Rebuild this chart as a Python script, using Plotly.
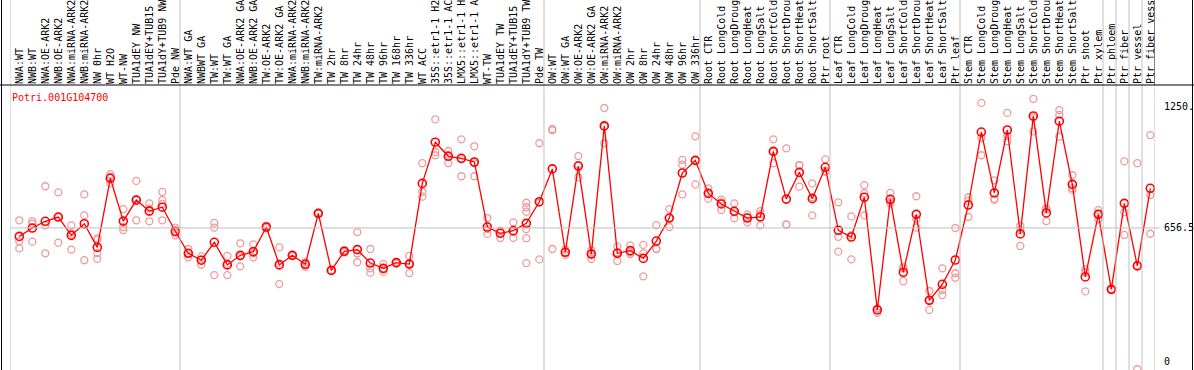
import plotly.graph_objects as go

gene_id = "Potri.001G104700"

group_nw = ["NWA:WT", "NWB:WT", "NWA:OE-ARK2", "NWB:OE-ARK2", "NWA:miRNA-ARK2", "NWB:miRNA-ARK2",
            "NW 0hr", "WT H2O", "WT-NW", "TUA1dEY NW", "TUA1dEY+TUB15", "TUA1dY+TUB9 NW", "Pde NW"]
group_tw = ["NWA:WT GA", "NWBWT GA", "TW:WT", "TW:WT GA", "NWA:OE-ARK2 GA", "NWB:OE-ARK2 GA",
            "TW:OE-ARK2", "TW:OE-ARK2 GA", "NWA:miRNA-ARK2", "NWB:miRNA-ARK2", "TW:miRNA-ARK2",
            "TW 2hr", "TW 8hr", "TW 24hr", "TW 48hr", "TW 96hr", "TW 168hr", "TW 336hr", "WT ACC",
            "35S::etr1-1 H2", "35S::etr1-1 AC", "LMX5::etr1-1 H", "LMX5::etr1-1 A", "WT-TW",
            "TUA1dEY TW", "TUA1dEY+TUB15", "TUA1dY+TUB9 TW", "Pde TW"]
group_ow = ["OW:WT", "OW:WT GA", "OW:OE-ARK2", "OW:OE-ARK2 GA", "OW:miRNA-ARK2", "OW:miRNA-ARK2",
            "OW 2hr", "OW 8hr", "OW 24hr", "OW 48hr", "OW 96hr", "OW 336hr"]
group_root = ["Root CTR", "Root LongCold", "Root LongDroug", "Root LongHeat", "Root LongSalt",
              "Root ShortCold", "Root ShortDrou", "Root ShortHeat", "Root ShortSalt", "Ptr root"]
group_leaf = ["Leaf CTR", "Leaf LongCold", "Leaf LongDroug", "Leaf LongHeat", "Leaf LongSalt",
              "Leaf ShortCold", "Leaf ShortDrou", "Leaf ShortHeat", "Leaf ShortSalt", "Ptr leaf"]
group_stem = ["Stem CTR", "Stem LongCold", "Stem LongDroug", "Stem LongHeat", "Stem LongSalt",
              "Stem ShortCold", "Stem ShortDrou", "Stem ShortHeat", "Stem ShortSalt", "Ptr shoot", "Ptr xylem"]
group_phloem = ["Ptr phloem"]
group_fiber = ["Ptr fiber"]
group_vessel = ["Ptr vessel"]
group_fv = ["Ptr fiber vess"]

groups = [group_nw, group_tw, group_ow, group_root, group_leaf, group_stem,
          group_phloem, group_fiber, group_vessel, group_fv]

# mean expression per sample
expression = [615, 656, 689, 710, 620, 677, 561, 900, 690, 793, 739, 758, 640,
              532, 498, 586, 475, 522, 540, 661, 475, 522, 478, 728, 448, 542, 550, 484, 458, 486, 479,
              875, 1077, 1008, 998, 980, 661, 630, 643, 679, 785,
              946, 537, 960, 528, 1157, 532, 545, 507, 592, 705, 926, 988,
              826, 774, 738, 705, 711, 1032, 798, 929, 800, 954,
              645, 612, 807, 254, 797, 439, 723, 301, 380, 499,
              769, 1127, 828, 1137, 627, 1206, 730, 1180, 870, 416, 723,
              355, 777, 470, 851]

# individual replicate values per sample
replicates = [
    [694, 591, 556], [689, 678, 589], [861, 669, 532], [831, 584, 710], [669, 630, 550],
    [821, 718, 498], [599, 533, 505, 605], [920, 908, 875], [749, 661, 646], [887, 694, 797],
    [777, 689, 751], [833, 793, 774, 694], [658, 633, 620],
    [553, 512, 532], [517, 476, 501], [681, 658, 425], [519, 425, 481], [581, 468, 517],
    [576, 512, 532], [667, 655, 661], [561, 381, 483], [524, 520, 522], [489, 466, 479],
    [730, 726, 728], [450, 446, 448], [548, 537, 541], [636, 531, 488], [553, 458, 437],
    [479, 442, 453], [490, 482, 486], [519, 435, 483],
    [974, 834, 810], [1189, 1029, 1013], [1034, 974, 1016], [1091, 910, 993], [1057, 910, 973],
    [705, 627, 651], [607, 640, 643], [684, 608, 637], [780, 758, 736, 651, 606, 484],
    [1072, 502, 781],
    [1142, 1135, 553], [537, 524, 550], [1009, 905, 966], [547, 504, 533], [1245, 1072, 1154],
    [565, 494, 537], [571, 528, 536], [573, 532, 419], [670, 553, 553], [749, 661, 705],
    [990, 967, 821], [1106, 870, 988],
    [851, 800, 827], [795, 744, 783], [777, 704, 733], [723, 684, 708], [739, 669, 725],
    [1091, 974, 1031], [1047, 674, 673], [965, 859, 963], [875, 718, 807], [993, 932, 937],
    [782, 613, 540], [713, 502, 621], [866, 826, 718], [240, 262, 260], [828, 777, 786],
    [458, 395, 464], [812, 658, 699], [347, 254, 302], [458, 352, 327], [656, 434, 412],
    [807, 790, 710], [1270, 1098, 1013], [890, 800, 794], [1221, 1108, 1082], [667, 568, 646],
    [1290, 1130, 1198], [746, 690, 754], [1235, 1211, 1104], [915, 843, 852], [453, 439, 345],
    [744, 699, 726],
    [352, 357, 356], [983, 733, 622], [974, -37, 473], [1112, 818, 628],
]

y_ticks = [0, 656.5, 1250]
y_tick_text = ["0", "656.5", "1250."]

labels = [name for g in groups for name in g]
n = len(labels)
xs = list(range(n))

MAIN = "#ff0000"
REP = "#f09a9a"
GRID = "#c0c0c0"
MONO = "DejaVu Sans Mono"

rep_x, rep_y = [], []
for i, vals in enumerate(replicates):
    for v in vals:
        rep_x.append(i)
        rep_y.append(v)

fig = go.Figure()
fig.add_trace(go.Scatter(
    x=rep_x, y=rep_y, mode="markers",
    marker=dict(symbol="circle-open", size=7, color=REP, line=dict(width=1.3, color=REP)),
    hoverinfo="skip", showlegend=False))
fig.add_trace(go.Scatter(
    x=xs, y=expression, mode="lines+markers",
    line=dict(color=MAIN, width=1.3),
    marker=dict(symbol="circle-open", size=8, color=MAIN, line=dict(width=1.6, color=MAIN)),
    showlegend=False))

x_lo, x_hi = -0.715, n - 1 + 0.36
y_lo, y_hi = -40.7, 1357.8
top_paper = 85 / 285 + 1

shapes = []
# group separators
bounds = []
acc = -1
for g in groups:
    acc += len(g)
    bounds.append(acc + 0.36)
for b in [x_lo] + bounds:
    if b >= x_hi - 0.01:
        shapes.append(dict(type="line", xref="x", yref="paper", x0=b, x1=b, y0=0, y1=1,
                           line=dict(color=GRID, width=1)))
        shapes.append(dict(type="line", xref="x", yref="paper", x0=b, x1=b, y0=1, y1=top_paper,
                           line=dict(color="black", width=1)))
    else:
        shapes.append(dict(type="line", xref="x", yref="paper", x0=b, x1=b, y0=0, y1=top_paper,
                           line=dict(color=GRID, width=1)))
# horizontal reference at the middle tick
shapes.append(dict(type="line", xref="paper", yref="y", x0=0, x1=1.004, y0=y_ticks[1], y1=y_ticks[1],
                   line=dict(color=GRID, width=1)))
# frame lines
px = lambda p: (p - 10) / 1145.0
shapes.append(dict(type="line", xref="paper", yref="paper", x0=px(0), x1=px(1194), y0=1, y1=1,
                   line=dict(color="black", width=1)))
shapes.append(dict(type="line", xref="paper", yref="paper", x0=px(1.5), x1=px(1.5), y0=0, y1=top_paper,
                   line=dict(color="black", width=1)))
shapes.append(dict(type="line", xref="paper", yref="paper", x0=px(1192.5), x1=px(1192.5), y0=0, y1=top_paper,
                   line=dict(color="black", width=1)))

annotations = [dict(text=gene_id, xref="paper", yref="paper", x=0, y=(370 - 97) / 285,
                    xanchor="left", yanchor="middle", showarrow=False,
                    font=dict(family=MONO, size=10, color=MAIN))]
for v, t in zip(y_ticks, y_tick_text):
    annotations.append(dict(text=t, xref="paper", yref="y", x=px(1162), y=v, xanchor="left",
                            yanchor="middle", showarrow=False, font=dict(family=MONO, size=10, color="black")))

fig.update_layout(
    width=1194, height=370, autosize=False,
    margin=dict(l=10, r=39, t=85, b=0, pad=0),
    paper_bgcolor="white", plot_bgcolor="white",
    xaxis=dict(range=[x_lo, x_hi], side="top", tickmode="array", tickvals=xs, ticktext=labels,
               tickangle=-90, tickfont=dict(family=MONO, size=10, color="black"),
               showgrid=False, zeroline=False, showline=False, ticks=""),
    yaxis=dict(range=[y_lo, y_hi], showticklabels=False, showgrid=False, zeroline=False, showline=False),
    shapes=shapes, annotations=annotations,
)

fig.write_html("out.html", config={"displayModeBar": False},
               post_script="document.body.style.margin='0px';")
